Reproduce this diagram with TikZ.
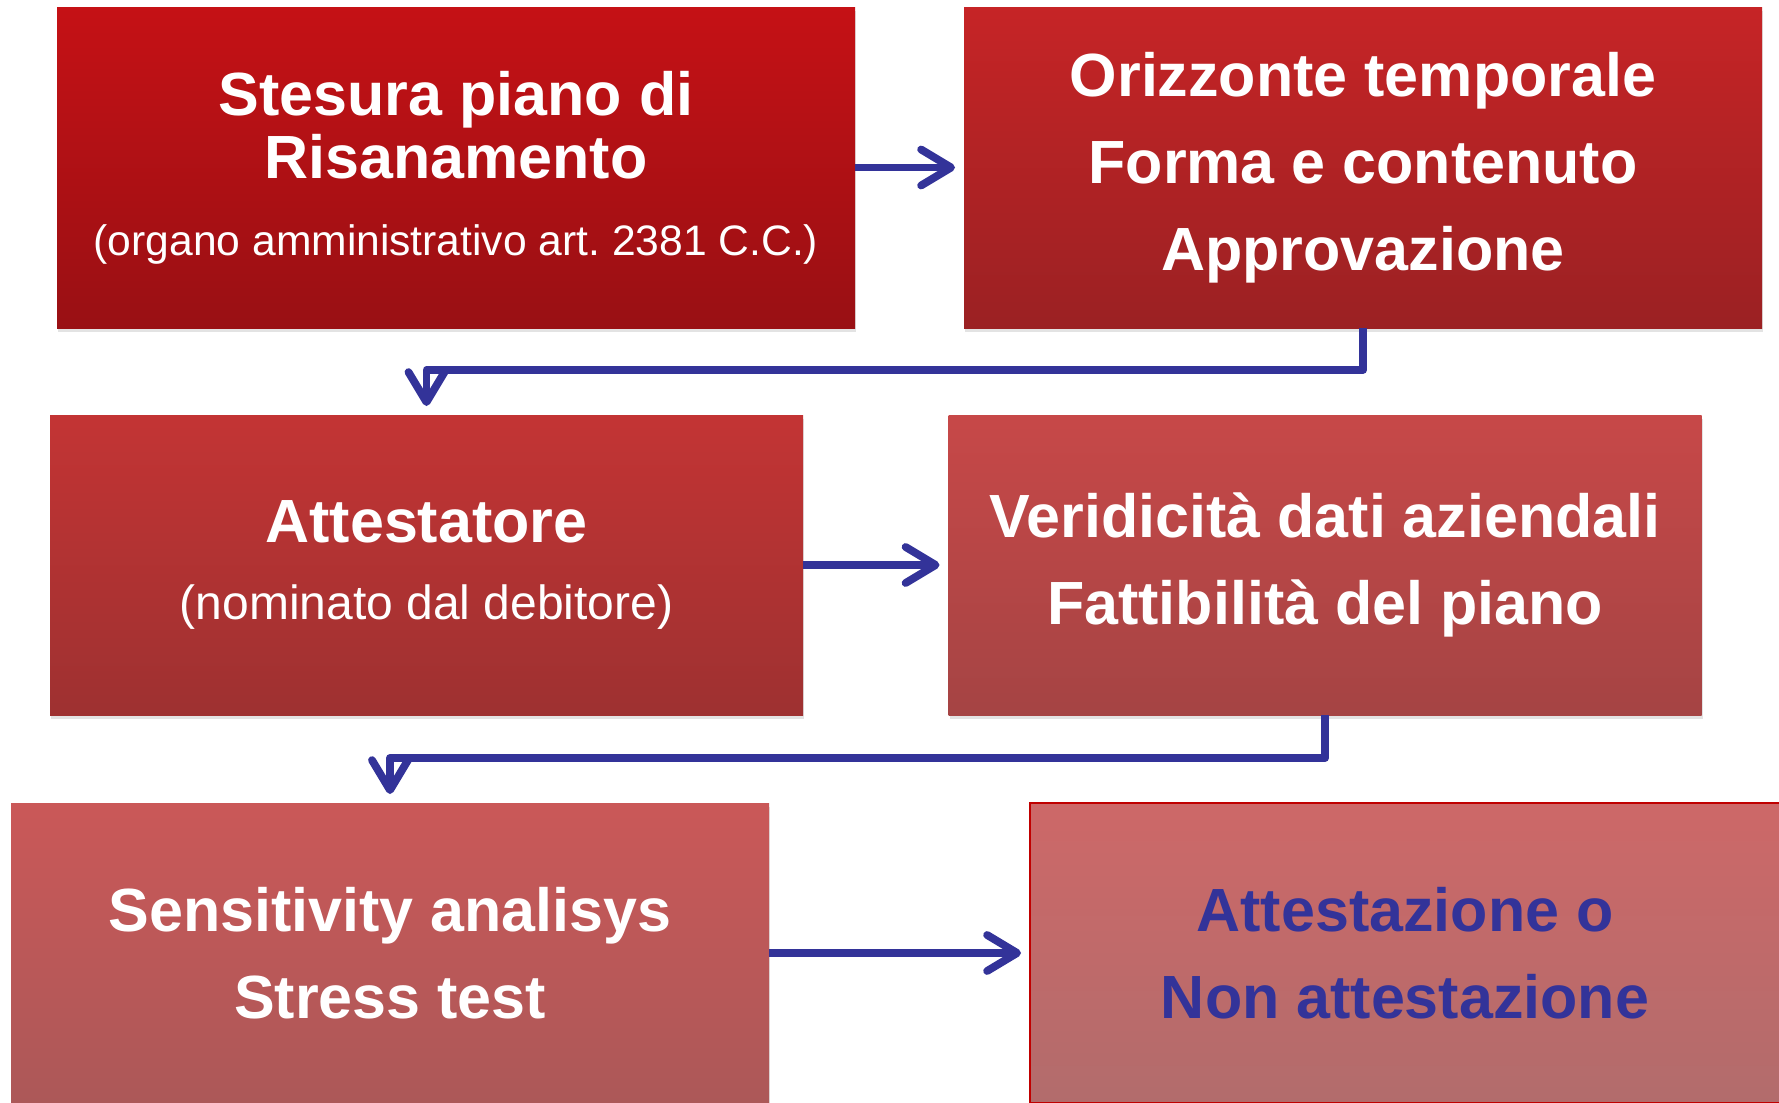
\documentclass[tikz,border=0pt]{standalone}
\usepackage{fontspec}
\setmainfont{Liberation Sans}
\usetikzlibrary{arrows.meta,shadows}
\frenchspacing

\definecolor{flowblue}{RGB}{51,51,153}
\definecolor{edgered}{RGB}{192,0,0}
\definecolor{redAtop}{RGB}{197,17,21}
\definecolor{redAbot}{RGB}{153,16,20}
\definecolor{redBtop}{RGB}{198,36,38}
\definecolor{redBbot}{RGB}{155,33,35}
\definecolor{redCtop}{RGB}{195,52,52}
\definecolor{redCbot}{RGB}{158,49,49}
\definecolor{redDtop}{RGB}{199,72,72}
\definecolor{redDbot}{RGB}{165,68,68}
\definecolor{redEtop}{RGB}{202,88,88}
\definecolor{redEbot}{RGB}{172,88,88}
\definecolor{redFtop}{RGB}{205,104,104}
\definecolor{redFbot}{RGB}{178,108,108}

\begin{document}
\begin{tikzpicture}
[x=0.5pt, y=-0.5pt, >={Straight Barb[length=15pt, width=18pt, round]},
 box/.style={rectangle, inner sep=0, outer sep=0, align=center, text=white,
   font=\fontsize{30.5}{43.5}\selectfont\bfseries,
   drop shadow={shadow xshift=0.5pt, shadow yshift=-2pt, opacity=0.22}},
 wide/.style={minimum width=399pt, minimum height=160.5pt},
 link/.style={->, draw=flowblue, line width=3.9pt, line join=round, shorten >=4.5pt}]
\useasboundingbox [fill=white] (0,0) rectangle (1779,1103);
% first row
\node (plan) [box, wide, top color=redAtop, bottom color=redAbot,
  font=\fontsize{30.5}{31.5}\selectfont\bfseries] at (456,167.5)
  {Stesura piano di\\Risanamento\\[7pt]{\mdseries\fontsize{21.3}{24}\selectfont (organo amministrativo art. 2381 C.C.)}};
\node (rules) [box, wide, top color=redBtop, bottom color=redBbot] at (1363,167.5)
  {Orizzonte temporale\\Forma e contenuto\\Approvazione};
% second row
\node (expert) [box, minimum width=376.5pt, minimum height=150pt, top color=redCtop, bottom color=redCbot,
  font=\fontsize{30.5}{31.5}\selectfont\bfseries] at (426.5,565)
  {Attestatore\\[7pt]{\mdseries\fontsize{24}{26}\selectfont (nominato dal debitore)}};
\node (checks) [box, minimum width=376.5pt, minimum height=150pt, top color=redDtop, bottom color=redDbot] at (1325,565)
  {Veridicità dati aziendali\\Fattibilità del piano};
% third row
\node (stress) [box, minimum width=379pt, minimum height=150pt, top color=redEtop, bottom color=redEbot] at (390,953)
  {Sensitivity analisys\\Stress test};
\node (outcome) [box, minimum width=375pt, minimum height=150pt, top color=redFtop, bottom color=redFbot,
  draw=edgered, line width=1pt, text=flowblue] at (1405,953)
  {Attestazione o\\Non attestazione};
% connectors
\draw [link] (plan.east) -- (rules.west);
\draw [link] (rules.south) -- ++(0,42) -| (expert.north);
\draw [link] (expert.east) -- (checks.west);
\draw [link] (checks.south) -- ++(0,43) -| (stress.north);
\draw [link] (stress.east) -- (outcome.west);
\end{tikzpicture}
\end{document}
